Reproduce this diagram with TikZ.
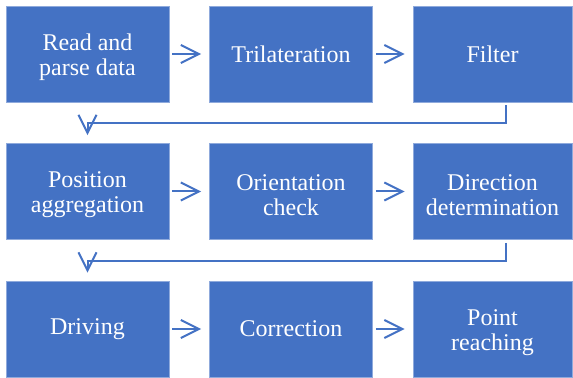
\documentclass[tikz,border=0pt]{standalone}
\usepackage{fontspec}
\setmainfont{Liberation Serif}
\usepackage{tikz}
\usetikzlibrary{arrows.meta}
\definecolor{stageblue}{HTML}{4472C4}
\definecolor{stageedge}{HTML}{8FAADC}
\newcommand{\lift}{\rule{0pt}{11.5pt}}
\tikzset{>={Straight Barb[length=9pt,width=9pt,line width=1pt]}}
\tikzset{stage/.style={rectangle,fill=stageblue,draw=stageedge,line width=0.4pt,text=white,
    minimum width=81.5pt,minimum height=48pt,inner sep=0pt,align=center,
    font=\fontsize{12}{12.5}\selectfont},
  laststage/.style={stage,minimum width=79.5pt},
  link/.style={->,draw=stageblue,line width=1pt,shorten <=1.5pt,shorten >=4pt}}

\begin{document}
\begin{tikzpicture}[x=0.5pt,y=-0.5pt]
                    \useasboundingbox (0,0) rectangle (573,378);
                    \node[stage] (read) at (87.5,54) {\lift Read and\\parse data};
                    \node[stage] (tri) at (291,54) {Trilateration};
                    \node[laststage] (filt) at (492.5,54) {Filter};
                    \node[stage] (agg) at (87.5,191.5) {\lift Position\\aggregation};
                    \node[stage] (orient) at (291,191.5) {\lift Orientation\\check};
                    \node[laststage] (dir) at (492.5,191.5) {\lift Direction\\determination};
                    \node[stage] (drive) at (87.5,329) {Driving};
                    \node[stage] (corr) at (291,329) {Correction};
                    \node[laststage] (reach) at (492.5,329) {\lift Point\\reaching};
                    \coordinate (bendA) at (506,123);
                    \coordinate (bendB) at (506,261);
                    \draw[link] (read) -- (tri);
                    \draw[link] (tri) -- (filt);
                    \draw[link] (agg) -- (orient);
                    \draw[link] (orient) -- (dir);
                    \draw[link] (drive) -- (corr);
                    \draw[link] (corr) -- (reach);
                    \draw[link] (filt.south -| bendA) -- (bendA) -| (agg.north);
                    \draw[link] (dir.south -| bendB) -- (bendB) -| (drive.north);
                \end{tikzpicture}
\end{document}
